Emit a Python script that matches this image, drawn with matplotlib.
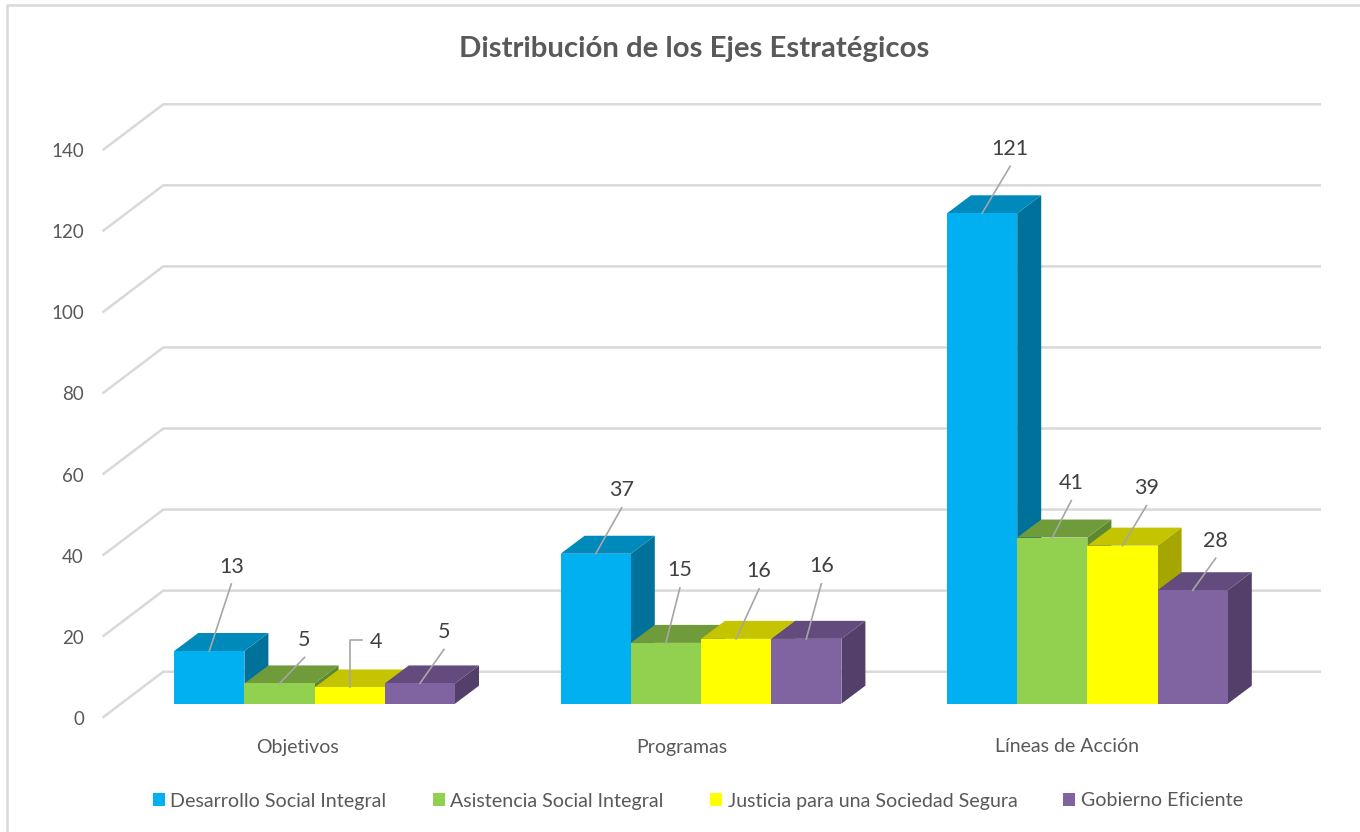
import matplotlib
matplotlib.use("Agg")
import matplotlib.pyplot as plt
from matplotlib.patches import Patch, Polygon

plt.rcParams['font.family'] = ['Lato', 'DejaVu Sans']

categories = ['Objetivos', 'Programas', 'Líneas de Acción']
series_names = ['Desarrollo Social Integral', 'Asistencia Social Integral',
                'Justicia para una Sociedad Segura', 'Gobierno Eficiente']
desarrollo = [13, 37, 121]
asistencia = [5, 15, 41]
justicia = [4, 16, 39]
gobierno = [5, 16, 28]
y_ticks = [0, 20, 40, 60, 80, 100, 120, 140]

front_cols = ['#00B0F0', '#92D050', '#FFFF00', '#8064A2']
top_cols = ['#0089BB', '#6F9B3B', '#C4C400', '#634C7D']
side_cols = ['#00719B', '#5E8732', '#A6A600', '#533F6A']

# end of each leader line, in pixels from the top of its bar
leader_ends = [[(22, 67), (26, 46), (28, 47)],
               [(25, 26), (14, 55), (19, 37)],
               [(0, 47), (23, 50), (24, 40)],
               [(24, 34), (15, 55), (23, 32)]]

W, H = 1360, 832
PX_X = 386.4   # pixels per category
PX_Y = 4.053   # pixels per value unit
X0, Y0 = 314.6, 703.7  # pixel of category 0 and value 0

fig = plt.figure(figsize=(W / 100, H / 100), dpi=100)
ax = fig.add_axes([0, 0, 1, 1])
ax.set_xlim(-X0 / PX_X, (W - X0) / PX_X)
ax.set_ylim(-(H - Y0) / PX_Y, Y0 / PX_Y)
ax.axis('off')


def dx(p):
    return p / PX_X


def dy(p):
    return p / PX_Y


# chart border, only left and top
ax.plot([6.5 / W, 6.5 / W, 1], [0, 1 - 5 / H, 1 - 5 / H], transform=ax.transAxes,
        color='#D9D9D9', lw=1.8, clip_on=False)

# walls
grid_c = '#D9D9D9'
left_front = dx(102.5 - X0)
left_back = dx(163.3 - X0)
right_back = dx(1321 - X0)
for v in y_ticks:
    yb = v + dy(32)
    yf = v - dy(14)
    ax.plot([left_front, left_back, right_back], [yf, yb, yb], color=grid_c, lw=1.8,
            solid_joinstyle='miter', solid_capstyle='butt', zorder=1)
    ax.text(dx(84 - X0), yf - dy(1.5), str(v), ha='right', va='center', fontsize=13.5,
            color='#595959')

# bars, painted from left to right so the next one hides the last one's side
all_series = [desarrollo, asistencia, justicia, gobierno]
bw = 70.2 / PX_X
ddx = dx(24)
ddy = dy(18)
z = 2
for g in range(len(categories)):
    for s, vals in enumerate(all_series):
        x = g + (s - 1.5) * bw
        v = vals[g]
        l, r = x - bw / 2, x + bw / 2
        ax.add_patch(Polygon([(r, 0), (r + ddx, ddy), (r + ddx, v + ddy), (r, v)],
                             fc=side_cols[s], ec='none', zorder=z))
        ax.add_patch(Polygon([(l, v), (r, v), (r + ddx, v + ddy), (l + ddx, v + ddy)],
                             fc=top_cols[s], ec='none', zorder=z))
        ax.bar(x, v, width=bw, color=front_cols[s], zorder=z + 0.5)
        z += 1

# data labels with leader lines
for s, vals in enumerate(all_series):
    for g, v in enumerate(vals):
        x = g + (s - 1.5) * bw
        ex, ey = leader_ends[s][g]
        if vals is justicia and g == 0:
            ax.plot([x, x, x + dx(12)], [v, v + dy(ey), v + dy(ey)], color='#A6A6A6',
                    lw=1.2, zorder=100)
            ax.text(x + dx(26), v + dy(ey - 2), str(v), ha='center', va='center',
                    fontsize=15.5, color='#404040', zorder=101)
        else:
            ax.plot([x, x + dx(ex)], [v, v + dy(ey)], color='#A6A6A6', lw=1.2, zorder=100)
            ax.text(x + dx(ex), v + dy(ey + 17.5), str(v), ha='center', va='center',
                    fontsize=15.5, color='#404040', zorder=101)

# category labels
for g, c in enumerate(categories):
    ax.text(g - dx(17.5 + 1.5 * g), dy(703.7 - 747), c, ha='center', va='center', fontsize=14,
            color='#595959')

fig.text(694 / W, 1 - 49 / H, 'Distribución de los Ejes Estratégicos', ha='center',
         va='center', fontsize=21.2, fontweight='bold', color='#595959')

handles = [Patch(fc=c, ec='none', label=n) for c, n in zip(front_cols, series_names)]
fig.legend(handles=handles, loc='center', bbox_to_anchor=(698 / W, 1 - 801 / H), ncol=4,
           frameon=False, fontsize=14.1, labelcolor='#595959', handlelength=0.61,
           handleheight=0.61, handletextpad=0.3, columnspacing=2.35)

fig.savefig('out.png', dpi=100)
